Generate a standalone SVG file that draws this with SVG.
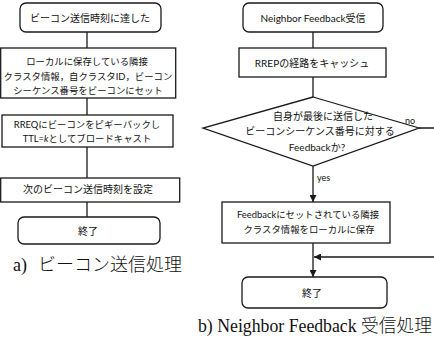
<svg xmlns="http://www.w3.org/2000/svg" width="434" height="341" viewBox="0 0 434 341">
<defs>
<style>
.bx{fill:#fff;stroke:#1a1a1a;stroke-width:1.3}
.ln{fill:none;stroke:#1a1a1a;stroke-width:1.3}
.t{font-family:Lato,"Noto Sans CJK JP",sans-serif;font-size:10px;fill:#111;text-anchor:middle;dominant-baseline:central}
.s{font-size:9.4px}
.lbl{font-family:Lato,"Noto Sans CJK JP",sans-serif;font-size:9px;fill:#111}
.ttl{font-family:"Liberation Serif","Noto Sans CJK JP",serif;font-size:18px;fill:#111}
.jp{font-family:"Noto Sans CJK JP",sans-serif;font-weight:300}
</style>
<marker id="ah" viewBox="0 0 10 10" refX="10" refY="5" markerWidth="7" markerHeight="7" markerUnits="userSpaceOnUse" orient="auto">
<path d="M0,0 L10,5 L0,10 z" fill="#1a1a1a"/>
</marker>
</defs>
<rect width="434" height="341" fill="#fff"/>

<g id="connectors">
<line class="ln" x1="87" y1="32" x2="87" y2="48"/>
<line class="ln" x1="87" y1="98" x2="87" y2="115"/>
<line class="ln" x1="87" y1="147" x2="87" y2="178"/>
<line class="ln" x1="87" y1="202" x2="87" y2="217"/>
<line class="ln" x1="313" y1="32" x2="313" y2="48"/>
<line class="ln" x1="313" y1="77" x2="313" y2="97"/>
<line class="ln" x1="313" y1="166" x2="313" y2="202" marker-end="url(#ah)"/>
<line class="ln" x1="313" y1="243" x2="313" y2="277" marker-end="url(#ah)"/>
<polyline class="ln" points="419,128 440,128 440,257 314,257" marker-end="url(#ah)"/>
<text class="lbl" x="405" y="124">no</text>
<text class="lbl" x="317" y="181">yes</text>
</g>

<g id="a1">
<rect class="bx" x="20" y="3" width="141" height="29" rx="6"/>
<text class="t" x="90" y="17.5">ビーコン送信時刻に達した</text>
</g>
<g id="a2">
<rect class="bx" x="0.7" y="48" width="175" height="50"/>
<text class="t s" x="87" y="61">ローカルに保存している隣接</text>
<text class="t s" x="88" y="76">クラスタ情報，自クラスタID，ビーコン</text>
<text class="t s" x="88" y="90">シーケンス番号をビーコンにセット</text>
</g>
<g id="a3">
<rect class="bx" x="2" y="115" width="171" height="32"/>
<text class="t s" x="87" y="124">RREQにビーコンをピギーバックし</text>
<text class="t s" x="87" y="138">TTL=<tspan font-style="italic">k</tspan>としてブロードキャスト</text>
</g>
<g id="a4">
<rect class="bx" x="0.7" y="178" width="179" height="24"/>
<text class="t" x="88" y="189">次のビーコン送信時刻を設定</text>
</g>
<g id="a5">
<rect class="bx" x="18" y="217" width="142" height="27" rx="6"/>
<text class="t" x="88" y="231">終了</text>
</g>
<text class="ttl" x="13" y="271">a)<tspan class="jp" x="38">ビーコン送信処理</tspan></text>

<g id="b1">
<rect class="bx" x="243" y="3" width="140" height="29" rx="6"/>
<text class="t" x="313" y="17.5">Neighbor Feedback受信</text>
</g>
<g id="b2">
<rect class="bx" x="239" y="48" width="147" height="29"/>
<text class="t" x="312" y="62.5">RREPの経路をキャッシュ</text>
</g>
<g id="b3">
<polygon class="bx" points="313,97 419,128 313,166 203,128"/>
<text class="t" x="323" y="116">自身が最後に送信した</text>
<text class="t" x="320" y="131">ビーコンシーケンス番号に対する</text>
<text class="t" x="317" y="147">Feedbackか?</text>
</g>
<g id="b4">
<rect class="bx" x="222" y="202" width="168" height="41"/>
<text class="t s" x="308" y="214">Feedbackにセットされている隣接</text>
<text class="t s" x="309" y="229">クラスタ情報をローカルに保存</text>
</g>
<g id="b5">
<rect class="bx" x="242" y="277" width="145" height="31" rx="6"/>
<text class="t" x="312" y="293">終了</text>
</g>
<text class="ttl" x="198" y="332" textLength="234" lengthAdjust="spacingAndGlyphs">b) Neighbor Feedback <tspan class="jp">受信処理</tspan></text>
</svg>
